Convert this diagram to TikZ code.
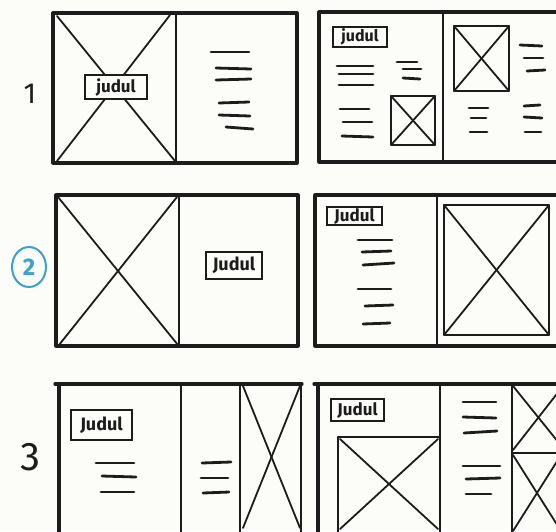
\documentclass[tikz,border=0pt]{standalone}
\usepackage{fontspec}
\usetikzlibrary{shapes.geometric}
\setmainfont{Fira Sans}
\definecolor{paper}{HTML}{FCFCF8}
\definecolor{ink}{HTML}{1C1C1C}
\definecolor{bluepen}{HTML}{3D9FD3}
\tikzset{
  frame/.style={draw=ink, line width=3.2pt, line cap=round, line join=round},
  divider/.style={draw=ink, line width=2.6pt, line cap=round},
  imgbox/.style={draw=ink, line width=2.3pt, line join=round},
  cross/.style={draw=ink, line width=1.8pt, line cap=round},
  txt/.style={draw=ink, line width=2.8pt, line cap=round},
  title/.style={draw=ink, line width=2.2pt, fill=paper, inner sep=0pt, text=ink},
  rowlabel/.style={text=ink, inner sep=0pt}
}
\begin{document}
\begin{tikzpicture}[x=1pt,y=-1pt]
\useasboundingbox[fill=paper] (0,0) rectangle (556,531);

% ---------- Row 1 ----------
\node[rowlabel, font=\fontsize{29}{29}\selectfont] (l1) at (30,94) {1};
% left spread
\draw[frame] (53,13) rectangle (297,163);
\draw[divider] (176,13) -- (176,163);
\draw[cross] (57,16) -- (175,161);
\draw[cross] (170,15) -- (57,161);
\node[title, minimum width=62pt, minimum height=24pt, font=\fontsize{17}{17}\selectfont\bfseries] (t1a) at (116,87) {judul};
\draw[txt] (211,52) -- (249,52);
\draw[txt] (216,68) -- (251,69);
\draw[txt] (216,80) -- (251,79);
\draw[txt] (219,103) -- (249,102);
\draw[txt] (219,115) -- (250,116);
\draw[txt] (226,127) -- (253,129);
% right spread
\draw[frame] (562,12) -- (319,12) -- (319,162) -- (562,162);
\draw[divider] (443,12) -- (443,162);
\node[title, minimum width=54pt, minimum height=20pt, font=\fontsize{16}{16}\selectfont\bfseries] (t1b) at (360,37) {judul};
\draw[txt] (337,66) -- (373,66);
\draw[txt] (339,74) -- (373,74);
\draw[txt] (339,85) -- (373,85);
\draw[txt] (397,62) -- (417,62);
\draw[txt] (403,69) -- (421,69);
\draw[txt] (403,78) -- (420,79);
\draw[txt] (340,109) -- (369,109);
\draw[txt] (343,122) -- (372,122);
\draw[txt] (342,136) -- (373,137);
\draw[imgbox] (391,96) rectangle (435,145);
\draw[cross] (391,96) -- (435,145);
\draw[cross] (435,96) -- (391,145);
\draw[imgbox] (454,26) rectangle (509,91);
\draw[cross] (454,26) -- (509,91);
\draw[cross] (509,26) -- (454,91);
\draw[txt] (520,45) -- (542,46);
\draw[txt] (524,58) -- (543,58);
\draw[txt] (527,71) -- (545,70);
\draw[txt] (524,106) -- (540,105);
\draw[txt] (524,117) -- (542,118);
\draw[txt] (525,132) -- (541,132);
\draw[txt] (469,108) -- (488,108);
\draw[txt] (471,118) -- (486,118);
\draw[txt] (470,132) -- (487,132);

% ---------- Row 2 ----------
\node[draw=bluepen, line width=2pt, ellipse, minimum width=34pt, minimum height=40pt, inner sep=0pt,
      text=bluepen, font=\fontsize{24}{24}\selectfont\bfseries] (l2) at (29,267) {2};
% left spread
\draw[frame] (56,195) rectangle (298,346);
\draw[divider] (179,195) -- (179,346);
\draw[cross] (58,197) -- (178,345);
\draw[cross] (177,197) -- (59,345);
\node[title, minimum width=56pt, minimum height=27pt, font=\fontsize{18}{18}\selectfont\bfseries] (t2a) at (234,265.5) {Judul};
% right spread
\draw[frame] (562,195) -- (315,195) -- (315,346) -- (562,346);
\draw[divider] (437,195) -- (437,346);
\node[title, minimum width=55pt, minimum height=18pt, font=\fontsize{17}{17}\selectfont\bfseries] (t2b) at (354.5,216) {Judul};
\draw[txt] (358,240) -- (392,240);
\draw[txt] (362,252) -- (391,251);
\draw[txt] (363,265) -- (394,263);
\draw[txt] (358,289) -- (391,289);
\draw[txt] (365,306) -- (393,305);
\draw[txt] (363,324) -- (390,323);
\draw[imgbox] (444,205) rectangle (549,335);
\draw[cross] (444,205) -- (549,335);
\draw[cross] (549,205) -- (444,335);

% ---------- Row 3 ----------
\node[rowlabel, font=\fontsize{40}{40}\selectfont] (l3) at (30,457) {3};
% left spread
\draw[frame] (55,384) -- (302,384);
\draw[frame] (59,384) -- (59,533);
\draw[divider] (181,384) -- (181,533);
\draw[divider] (240,384) -- (240,533);
\draw[divider] (301,384) -- (301,533);
\draw[cross] (243,386) -- (300,528);
\draw[cross] (300,386) -- (243,528);
\node[title, minimum width=61pt, minimum height=30pt, font=\fontsize{18}{18}\selectfont\bfseries] (t3a) at (101.5,425) {Judul};
\draw[txt] (96,463) -- (134,463);
\draw[txt] (102,476) -- (136,477);
\draw[txt] (101,492) -- (134,492);
\draw[txt] (202,463) -- (231,462);
\draw[txt] (201,478) -- (228,478);
\draw[txt] (203,493) -- (229,492);
% right spread
\draw[frame] (314,384) -- (562,384);
\draw[frame] (318,384) -- (318,533);
\draw[divider] (440,384) -- (440,533);
\draw[divider] (512,384) -- (512,533);
\draw[imgbox] (512,453) -- (562,453);
\draw[cross] (513,386) -- (563,448);
\draw[cross] (563,386) -- (513,450);
\draw[cross] (513,455) -- (561,531);
\draw[cross] (561,455) -- (513,531);
\node[title, minimum width=53pt, minimum height=22pt, font=\fontsize{17}{17}\selectfont\bfseries] (t3b) at (357.5,410) {Judul};
\draw[imgbox] (338,533) -- (338,437) -- (440,437);
\draw[cross] (340,439) -- (438,529);
\draw[cross] (438,439) -- (340,529);
\draw[txt] (463,402) -- (496,402);
\draw[txt] (463,417) -- (496,418);
\draw[txt] (464,433) -- (497,431);
\draw[txt] (463,466) -- (500,466);
\draw[txt] (466,479) -- (500,478);
\draw[txt] (466,494) -- (491,494);
\end{tikzpicture}
\end{document}
